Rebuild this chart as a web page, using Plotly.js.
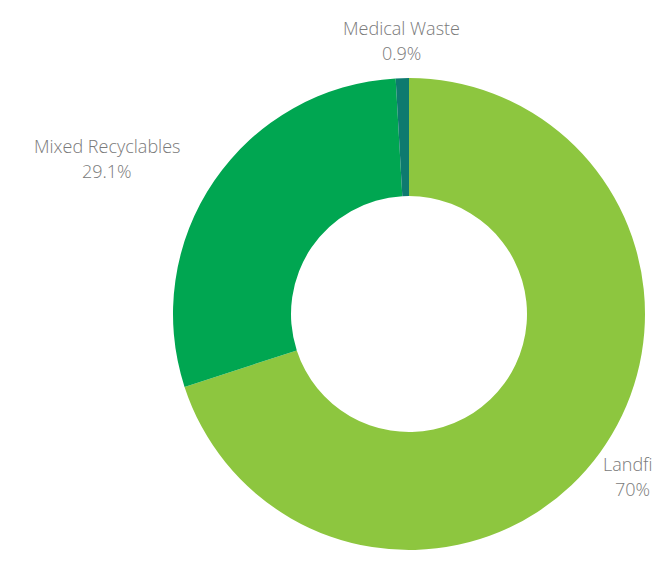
<!DOCTYPE html>
<html>
<head>
<meta charset="utf-8">
<script src="https://cdn.plot.ly/plotly-3.0.1.min.js"></script>
<style>html,body{margin:0;padding:0;background:#fff;}</style>
</head>
<body>
<div id="chart" style="width:652px;height:563px;"></div>
<script>
const labels = ["Landfill", "Mixed Recyclables", "Medical Waste"];
const values = [70, 29.1, 0.9];
const colors = ["#8dc63f", "#00a651", "#0e7a6f"];

const W = 652, H = 563;
// label anchor positions in pixels (centre x, centre y of first line)
const labelPos = [[632, 464], [107, 146], [401, 28]];
const lineGap = 25;

const annotations = [];
labels.forEach((lab, i) => {
  const [px, py] = labelPos[i];
  [lab, values[i] + "%"].forEach((txt, j) => {
    annotations.push({
      text: txt,
      xref: "paper", yref: "paper",
      x: px / W, y: 1 - (py + j * lineGap) / H,
      xanchor: "center", yanchor: "middle",
      showarrow: false,
      font: {family: "Open Sans", size: 18, color: "#7a7a7a", weight: 300}
    });
  });
});

Plotly.newPlot("chart", [{
  type: "pie",
  labels: labels,
  values: values,
  hole: 0.5,
  sort: false,
  direction: "clockwise",
  rotation: 0,
  marker: {colors: colors, line: {width: 0}},
  textinfo: "none",
  hoverinfo: "none",
  domain: {x: [173 / W, 645 / W], y: [1 - 550 / H, 1 - 78 / H]},
  showlegend: false
}], {
  width: W,
  height: H,
  margin: {l: 0, r: 0, t: 0, b: 0},
  paper_bgcolor: "#ffffff",
  plot_bgcolor: "#ffffff",
  showlegend: false,
  annotations: annotations
}, {displayModeBar: false, staticPlot: true});
</script>
</body>
</html>
